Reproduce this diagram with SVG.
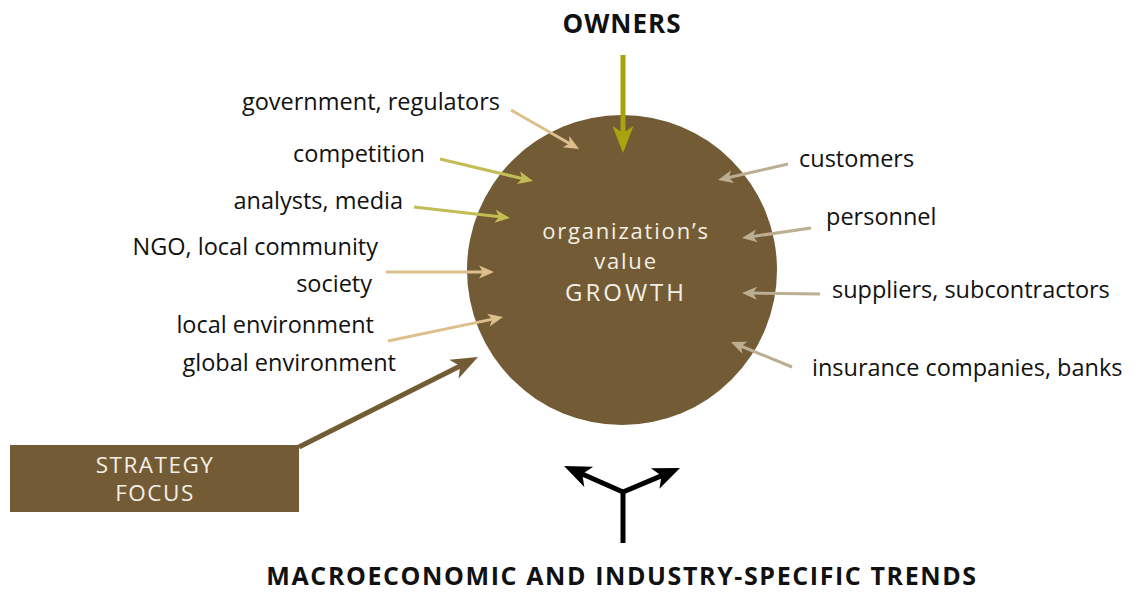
<svg xmlns="http://www.w3.org/2000/svg" width="1134" height="592" viewBox="0 0 1134 592">
<style>
text{font-family:"Open Sans","Noto Sans","Liberation Sans",sans-serif;}
.lbl{font-size:23.5px;fill:#111;}
.ctr{fill:#f3efe6;text-anchor:middle;}
.hdr{font-weight:bold;fill:#111;text-anchor:middle;}
.thin{fill:none;stroke-width:3;}
.thick{fill:none;stroke-width:5;}
</style>
<defs>
<marker id="mTan" markerUnits="userSpaceOnUse" viewBox="-8 -8 18 16" markerWidth="18" markerHeight="16" refX="0" refY="0" orient="auto"><path d="M8,0 L-7,-6.5 L-3,0 L-7,6.5 Z" fill="#dcbf8d"/></marker>
<marker id="mOl" markerUnits="userSpaceOnUse" viewBox="-8 -8 18 16" markerWidth="18" markerHeight="16" refX="0" refY="0" orient="auto"><path d="M8,0 L-7,-6.5 L-3,0 L-7,6.5 Z" fill="#c3bd55"/></marker>
<marker id="mGr" markerUnits="userSpaceOnUse" viewBox="-8 -8 18 16" markerWidth="18" markerHeight="16" refX="0" refY="0" orient="auto"><path d="M8,0 L-7,-6.5 L-3,0 L-7,6.5 Z" fill="#bcae91"/></marker>
<marker id="mOwn" markerUnits="userSpaceOnUse" viewBox="-20 -12 32 24" markerWidth="32" markerHeight="24" refX="0" refY="0" orient="auto"><path d="M10,0 L-17,-10.5 L-10,0 L-17,10.5 Z" fill="#a9a30e"/></marker>
<marker id="mBr" markerUnits="userSpaceOnUse" viewBox="-20 -12 32 24" markerWidth="32" markerHeight="24" refX="0" refY="0" orient="auto"><path d="M10,0 L-17,-10.5 L-10,0 L-17,10.5 Z" fill="#735c35"/></marker>
<marker id="mBk" markerUnits="userSpaceOnUse" viewBox="-20 -12 32 24" markerWidth="32" markerHeight="24" refX="0" refY="0" orient="auto"><path d="M10,0 L-17,-11 L-10,0 L-17,11 Z" fill="#000"/></marker>
</defs>

<g id="organization">
<circle cx="622" cy="270" r="155" fill="#735c35"/>
<text class="ctr" x="626" y="239" style="font-size:22px;letter-spacing:1.8px">organization’s</text>
<text class="ctr" x="626" y="269" style="font-size:22px;letter-spacing:1.8px">value</text>
<text class="ctr" x="626" y="301" style="font-size:24px;letter-spacing:3px">GROWTH</text>
</g>

<g id="owners"><text class="hdr" x="622" y="33" style="font-size:26px;letter-spacing:1px">OWNERS</text></g>
<g id="government"><text class="lbl" x="500" y="110" text-anchor="end">government, regulators</text></g>
<g id="competition"><text class="lbl" x="425" y="162" text-anchor="end">competition</text></g>
<g id="analysts"><text class="lbl" x="403" y="209" text-anchor="end">analysts, media</text></g>
<g id="ngo"><text class="lbl" x="378" y="255" text-anchor="end">NGO, local community</text>
<text class="lbl" x="372" y="292" text-anchor="end">society</text></g>
<g id="local-environment"><text class="lbl" x="374" y="333" text-anchor="end">local environment</text></g>
<g id="global-environment"><text class="lbl" x="396" y="371" text-anchor="end">global environment</text></g>
<g id="customers"><text class="lbl" x="799" y="167">customers</text></g>
<g id="personnel"><text class="lbl" x="826" y="225">personnel</text></g>
<g id="suppliers"><text class="lbl" x="832" y="298">suppliers, subcontractors</text></g>
<g id="insurance"><text class="lbl" x="812" y="376">insurance companies, banks</text></g>
<g id="strategy">
<rect x="10" y="445" width="289" height="67" fill="#735c35"/>
<text class="ctr" x="155" y="473" style="font-size:22.5px;letter-spacing:1.5px">STRATEGY</text>
<text class="ctr" x="155" y="501" style="font-size:22.5px;letter-spacing:1.5px">FOCUS</text>
</g>
<g id="trends"><text class="hdr" x="622" y="585" style="font-size:25px;letter-spacing:1.6px">MACROECONOMIC AND INDUSTRY-SPECIFIC TRENDS</text></g>

<g id="connectors">
<line class="thin" stroke="#dcbf8d" x1="511" y1="110" x2="572.1" y2="145" marker-end="url(#mTan)"/>
<line class="thin" stroke="#c3bd55" x1="440" y1="159" x2="525.2" y2="179.2" marker-end="url(#mOl)"/>
<line class="thin" stroke="#c3bd55" x1="414" y1="207" x2="502" y2="217.1" marker-end="url(#mOl)"/>
<line class="thin" stroke="#dcbf8d" x1="386" y1="272" x2="486" y2="272" marker-end="url(#mTan)"/>
<line class="thin" stroke="#dcbf8d" x1="388" y1="341" x2="495.2" y2="318.6" marker-end="url(#mTan)"/>
<line class="thin" stroke="#bcae91" x1="788" y1="164" x2="725.8" y2="178.2" marker-end="url(#mGr)"/>
<line class="thin" stroke="#bcae91" x1="811" y1="228" x2="749.9" y2="236.9" marker-end="url(#mGr)"/>
<line class="thin" stroke="#bcae91" x1="820" y1="294" x2="750" y2="293.1" marker-end="url(#mGr)"/>
<line class="thin" stroke="#bcae91" x1="792" y1="367" x2="738.4" y2="345" marker-end="url(#mGr)"/>
<line class="thick" stroke="#a9a30e" x1="623" y1="55" x2="623" y2="143" marker-end="url(#mOwn)"/>
<line class="thick" stroke="#735c35" x1="299" y1="447" x2="469.1" y2="361.5" marker-end="url(#mBr)"/>
<path class="thick" stroke="#000" stroke-width="6" d="M623,492 L573.2,470" marker-end="url(#mBk)"/>
<path class="thick" stroke="#000" stroke-width="6" d="M623,492 L670.8,471.9" marker-end="url(#mBk)"/>
<path class="thick" stroke="#000" stroke-width="6" d="M623,543 L623,490"/>
</g>
</svg>
